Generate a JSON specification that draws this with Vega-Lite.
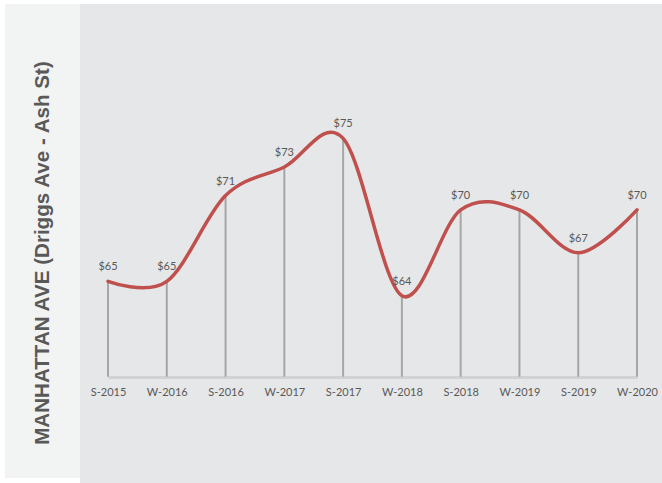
{
  "$schema": "https://vega.github.io/schema/vega-lite/v6.json",
  "background": "white",
  "padding": {"left": 5, "top": 4, "right": 0, "bottom": 0},
  "config": {
    "view": {"stroke": null},
    "font": "Lato",
    "text": {"font": "Lato"}
  },
  "spacing": 0,
  "hconcat": [
    {
      "width": 75,
      "height": 474,
      "view": {"fill": "#f2f3f3", "stroke": null},
      "data": {"values": [{"title": "MANHATTAN AVE (Driggs Ave - Ash St)"}]},
      "mark": {
        "type": "text",
        "angle": 270,
        "align": "center",
        "baseline": "middle",
        "font": "Liberation Sans",
        "fontWeight": "bold",
        "fontSize": 20.6,
        "color": "#595959",
        "dx": -12
      },
      "encoding": {"text": {"field": "title"}}
    },
    {
      "width": 582,
      "height": 479,
      "view": {"fill": "#e6e7e8", "stroke": null},
      "data": {
        "values": [
          {"period": "S-2015", "price": 65},
          {"period": "W-2016", "price": 65},
          {"period": "S-2016", "price": 71},
          {"period": "W-2017", "price": 73},
          {"period": "S-2017", "price": 75},
          {"period": "W-2018", "price": 64},
          {"period": "S-2018", "price": 70},
          {"period": "W-2019", "price": 70},
          {"period": "S-2019", "price": 67},
          {"period": "W-2020", "price": 70}
        ]
      },
      "encoding": {
        "x": {
          "field": "period",
          "type": "ordinal",
          "sort": null,
          "scale": {"type": "point", "range": [28, 557], "padding": 0},
          "axis": {
            "title": null,
            "labelAngle": 0,
            "domain": true,
            "domainColor": "#d2d2d2",
            "domainWidth": 3,
            "ticks": false,
            "grid": false,
            "offset": -106,
            "labelPadding": 9,
            "labelFont": "Lato",
            "labelFontSize": 11,
            "labelColor": "#595959"
          }
        }
      },
      "layer": [
        {
          "mark": {"type": "rule", "color": "#a6a6a6", "strokeWidth": 2},
          "encoding": {
            "y": {
              "field": "price",
              "type": "quantitative",
              "scale": {"domain": [50.91, 84.39], "nice": false, "zero": false},
              "axis": null
            },
            "y2": {"datum": 58.34}
          }
        },
        {
          "mark": {
            "type": "line",
            "interpolate": "cardinal",
            "color": "#c0504d",
            "strokeWidth": 3.5,
            "strokeCap": "round"
          },
          "encoding": {
            "y": {"field": "price", "type": "quantitative"}
          }
        },
        {
          "mark": {
            "type": "text",
            "baseline": "bottom",
            "align": "center",
            "dy": -9,
            "fontSize": 11,
            "font": "Lato",
            "color": "#595959"
          },
          "encoding": {
            "y": {"field": "price", "type": "quantitative"},
            "text": {"field": "price", "type": "quantitative", "format": "$.0f"}
          }
        }
      ]
    }
  ]
}
